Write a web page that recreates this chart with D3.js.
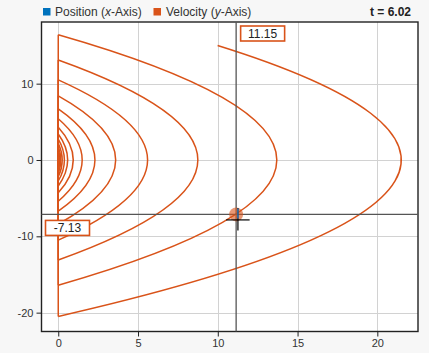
<!DOCTYPE html>
<html>
<head>
<meta charset="utf-8">
<script src="https://cdn.jsdelivr.net/npm/d3@7"></script>
<style>
  html, body { margin: 0; padding: 0; background: #f7f7f7; }
  svg { display: block; font-family: Arial, "Liberation Sans", sans-serif; }
</style>
</head>
<body>
<script>
// bouncing ball phase plot: position (x) vs velocity (y)
var xTicks = [0, 5, 10, 15, 20];
var yTicks = [-20, -10, 0, 10];

var startPos = 10, startVel = 15;
// speed at each impact / take-off and the highest position of each arc
var impactSpeeds = [20.5, 16.4, 13.1, 10.5, 8.4, 6.7, 5.4, 4.3, 3.4, 2.75, 2.2, 1.76, 1.4, 1.13, 0.9, 0.72, 0.58, 0.46];
var apexPos = [21.5, 13.7, 8.75, 5.6, 3.6, 2.3, 1.5, 0.94, 0.59, 0.385, 0.25, 0.16, 0.1, 0.065, 0.041, 0.026, 0.017, 0.011];

var cursorPos = 11.15, cursorVel = -7.13, timeNow = 6.02;

var width = 429, height = 353;
var plot = { left: 41.5, right: 418, top: 22, bottom: 331.5 };
var lineColor = '#D95319', posColor = '#0072BD';

var svg = d3.select('body').append('svg')
    .attr('width', width)
    .attr('height', height);

var xScale = d3.scaleLinear().domain([-1.05, 22.55]).range([plot.left, plot.right]);
var yScale = d3.scaleLinear().domain([-22.47, 18.08]).range([plot.bottom, plot.top]);

svg.append('rect')
    .attr('x', plot.left).attr('y', plot.top)
    .attr('width', plot.right - plot.left).attr('height', plot.bottom - plot.top)
    .attr('fill', '#fff');

// grid
var grid = svg.append('g').attr('stroke', '#d2d2d2').attr('stroke-width', 1);
grid.selectAll('.gx').data(xTicks).join('line')
    .attr('x1', d => Math.round(xScale(d)) + 0.5).attr('x2', d => Math.round(xScale(d)) + 0.5)
    .attr('y1', plot.top).attr('y2', plot.bottom);
grid.selectAll('.gy').data(yTicks).join('line')
    .attr('y1', d => Math.round(yScale(d)) + 0.5).attr('y2', d => Math.round(yScale(d)) + 0.5)
    .attr('x1', plot.left).attr('x2', plot.right);

// trajectory arcs (each one a parabola between two bounces)
var traj = svg.append('g').attr('fill', 'none').attr('stroke', lineColor).attr('stroke-width', 1.5);
impactSpeeds.forEach(function(s, i) {
    var a = apexPos[i];
    var p = d3.path();
    if (i === 0) {
        var t0 = (1 - startVel / s) / 2;
        p.moveTo(xScale(4 * a * t0 * (1 - t0)), yScale(s * (1 - 2 * t0)));
        p.quadraticCurveTo(xScale((1 - t0) * 2 * a), yScale(-t0 * s), xScale(0), yScale(-s));
    } else {
        p.moveTo(xScale(0), yScale(s));
        p.quadraticCurveTo(xScale(2 * a), yScale(0), xScale(0), yScale(-s));
    }
    traj.append('path').attr('d', p.toString());
    if (i + 1 < impactSpeeds.length) {
        traj.append('line')
            .attr('x1', xScale(0)).attr('x2', xScale(0))
            .attr('y1', yScale(-s)).attr('y2', yScale(impactSpeeds[i + 1]));
    }
});

// axes
var xAxis = d3.axisBottom(xScale).tickValues(xTicks).tickSize(5).tickPadding(3).tickFormat(d => String(d));
var yAxis = d3.axisLeft(yScale).tickValues(yTicks).tickSize(5).tickPadding(3).tickFormat(d => String(d));

var gx = svg.append('g').attr('transform', `translate(0, ${plot.bottom})`).call(xAxis);
var gy = svg.append('g').attr('transform', `translate(${plot.left}, 0)`).call(yAxis);
[gx, gy].forEach(function(g) {
    g.select('.domain').remove();
    g.selectAll('line').attr('stroke', '#222');
    g.selectAll('text').attr('fill', '#333').style('font-size', '11px');
});

svg.append('rect')
    .attr('x', plot.left).attr('y', plot.top)
    .attr('width', plot.right - plot.left).attr('height', plot.bottom - plot.top)
    .attr('fill', 'none').attr('stroke', '#222').attr('stroke-width', 1.4);

// cursor
var cx = xScale(cursorPos), cy = yScale(cursorVel);
svg.append('line')
    .attr('x1', cx).attr('x2', cx).attr('y1', plot.top).attr('y2', plot.bottom)
    .attr('stroke', '#555').attr('stroke-width', 1.3);
svg.append('line')
    .attr('x1', plot.left).attr('x2', plot.right).attr('y1', cy).attr('y2', cy)
    .attr('stroke', '#555').attr('stroke-width', 1.3);
svg.append('circle')
    .attr('cx', cx).attr('cy', cy).attr('r', 7)
    .attr('fill', lineColor).attr('fill-opacity', 0.6);

// mouse pointer
var mp = svg.append('g').attr('stroke-width', 1.2);
mp.append('line').attr('x1', cx + 1.8).attr('x2', cx + 1.8).attr('y1', cy - 6.5).attr('y2', cy + 16).attr('stroke', '#000');
mp.append('line').attr('x1', cx + 1.8).attr('x2', cx + 1.8).attr('y1', cy - 6).attr('y2', cy + 4).attr('stroke', '#2a86d8');
mp.append('line').attr('x1', cx - 10).attr('x2', cx + 13.5).attr('y1', cy + 5.5).attr('y2', cy + 5.5).attr('stroke', '#000');

// value labels
function valueBox(x, y, text) {
    var g = svg.append('g');
    g.append('rect')
        .attr('x', x).attr('y', y).attr('width', 44).attr('height', 15)
        .attr('fill', '#fff').attr('stroke', lineColor).attr('stroke-width', 1.6);
    g.append('text')
        .attr('x', x + 22).attr('y', y + 11.8)
        .attr('text-anchor', 'middle')
        .attr('fill', '#222').style('font-size', '12px')
        .text(text);
}
valueBox(cx + 4.5, plot.top + 4, cursorPos.toFixed(2));
valueBox(plot.left + 4, cy + 6, cursorVel.toFixed(2));

// legend
var legend = svg.append('g').style('font-size', '12px').attr('fill', '#333');
legend.append('rect').attr('x', 43).attr('y', 8).attr('width', 7.5).attr('height', 7.5).attr('fill', posColor);
var t1 = legend.append('text').attr('x', 55).attr('y', 15.5);
t1.append('tspan').text('Position (');
t1.append('tspan').style('font-style', 'italic').text('x');
t1.append('tspan').text('-Axis)');
legend.append('rect').attr('x', 153.5).attr('y', 8).attr('width', 7.5).attr('height', 7.5).attr('fill', lineColor);
var t2 = legend.append('text').attr('x', 166).attr('y', 15.5);
t2.append('tspan').text('Velocity (');
t2.append('tspan').style('font-style', 'italic').text('y');
t2.append('tspan').text('-Axis)');

svg.append('text')
    .attr('x', 411).attr('y', 15.5)
    .attr('text-anchor', 'end')
    .attr('fill', '#222')
    .style('font-size', '12px').style('font-weight', 'bold')
    .text('t = ' + timeNow.toFixed(2));
</script>
</body>
</html>
